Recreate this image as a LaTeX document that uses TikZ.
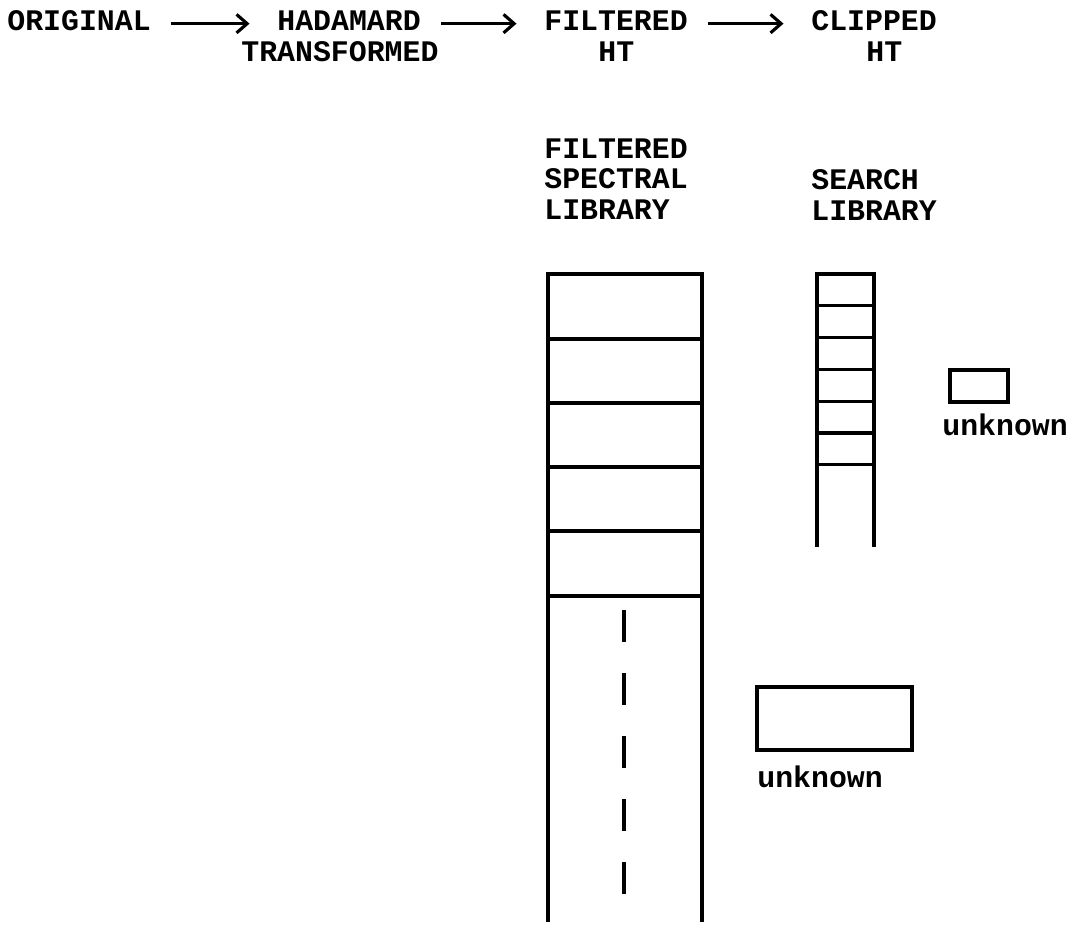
\documentclass[tikz,border=0pt]{standalone}
\usepackage{fontspec}
\newfontfamily\typewr{Liberation Mono}
\usepackage{tikz}
\usetikzlibrary{arrows.meta, positioning}
\tikzset{
  txt/.style={anchor=west, inner sep=0pt,
              font=\typewr\bfseries\fontsize{17}{17.6}\selectfont},
  lib/.style={txt, anchor=north west, align=left},
  flow/.style={-{Straight Barb[length=6pt, width=10.5pt]}, line width=1.8pt,
               shorten <=0.4cm, shorten >=0.55cm, transform canvas={yshift=-1.5pt}},
  col/.style={line width=2.1pt},
  slot/.style={line width=1.9pt},
  ukn/.style={draw, line width=2.1pt, inner sep=0pt}
}

\begin{document}
\begin{tikzpicture}[x=0.02cm, y=-0.02cm]
        \useasboundingbox (0,0) rectangle (1080,927);
        % processing chain
        \node[txt] (orig) at (7,21) {ORIGINAL};
        \node[txt] (hada) at (277,21) {HADAMARD};
        \node[txt] (filt) at (544,21) {FILTERED};
        \node[txt] (clip) at (811,21) {CLIPPED};
        \node[txt] (trans) at (241,52) {TRANSFORMED};
        \node[txt] (filtht) at (598,52) {HT};
        \node[txt] (clipht) at (866,52) {HT};
        \draw[flow] (orig) -- (hada);
        \draw[flow] (hada) -- (filt);
        \draw[flow] (filt) -- (clip);
        % libraries
        \node[lib] (speclib) at (544,138) {FILTERED\\SPECTRAL\\LIBRARY};
        \node[lib] (searchlib) at (811,169) {SEARCH\\LIBRARY};
        \draw[col] (548,922) -- (548,274) -- (702,274) -- (702,922);
        \foreach \y in {339,403,467,531,596}
          \draw[slot] (548,\y) -- (702,\y);
        \draw[slot, dash pattern=on 0.64cm off 0.62cm] (624,610) -- (624,895);
        \draw[col] (817,547) -- (817,274) -- (874,274) -- (874,547);
        \foreach \k in {1,...,6}
          \draw[slot] (817,274+31.8*\k) -- (874,274+31.8*\k);
        % unknowns
        \node[ukn, minimum width=1.16cm, minimum height=0.64cm] (ukna) at (979,386) {};
        \node[txt] (ukntxta) at (942,425) {unknown};
        \node[ukn, minimum width=3.1cm, minimum height=1.26cm] (uknb) at (834.5,718.5) {};
        \node[txt] (ukntxtb) at (757,777) {unknown};
      \end{tikzpicture}
\end{document}
